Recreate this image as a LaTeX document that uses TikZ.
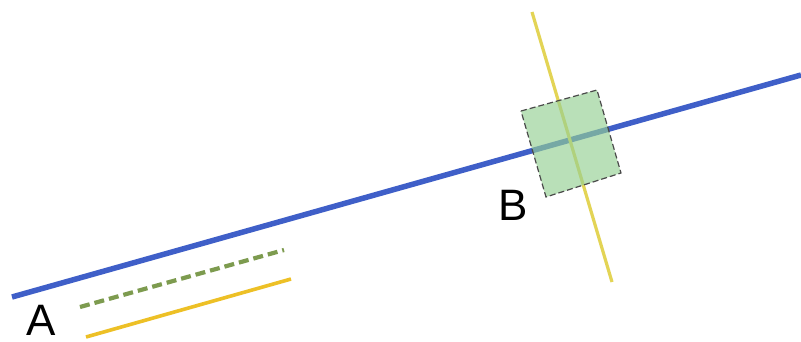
\documentclass[tikz,border=0pt]{standalone}
\usepackage{fontspec}
\setmainfont{Liberation Sans}
\definecolor{lineblue}{HTML}{3F5FC8}
\definecolor{paleyellow}{HTML}{E3D455}
\definecolor{gold}{HTML}{EDC026}
\definecolor{olive}{HTML}{7D9B4F}
\definecolor{boxgreen}{HTML}{95D093}
\definecolor{boxedge}{HTML}{4A4A4A}
\tikzset{
  mainline/.style={lineblue, line width=5.5pt},
  crossline/.style={paleyellow, line width=3.2pt},
  goldline/.style={gold, line width=3.6pt},
  dashline/.style={olive, line width=4.2pt, dash pattern=on 10pt off 5pt},
  areabox/.style={fill=boxgreen, fill opacity=0.65, draw=boxedge, draw opacity=1, dash pattern=on 6pt off 3pt, line width=1.2pt},
  lbl/.style={font=\fontsize{44}{44}\selectfont, inner sep=0pt, anchor=base west, text depth=0pt}
}
\begin{document}
\begin{tikzpicture}[x=1pt,y=-1pt]
\useasboundingbox (0,0) rectangle (801,341);
\fill[white] (0,0) rectangle (801,341);
\coordinate (bl) at (12,297);
\coordinate (br) at (801,75);
\coordinate (yt) at (532,12);
\coordinate (yb) at (612,282);
\coordinate (dl) at (80,307);
\coordinate (dr) at (284,250);
\coordinate (gl) at (86,337);
\coordinate (gr) at (291,279);
\coordinate (s1) at (521,111);
\coordinate (s2) at (597,90);
\coordinate (s3) at (621,173);
\coordinate (s4) at (546,197);
\draw[mainline] (bl) -- (br);
\draw[crossline] (yt) -- (yb);
\draw[areabox] (s1) -- (s2) -- (s3) -- (s4) -- cycle;
\draw[dashline] (dl) -- (dr);
\draw[goldline] (gl) -- (gr);
\node[lbl] (A) at (26,335.5) {A};
\node[lbl] (B) at (498,220) {B};
\end{tikzpicture}
\end{document}
